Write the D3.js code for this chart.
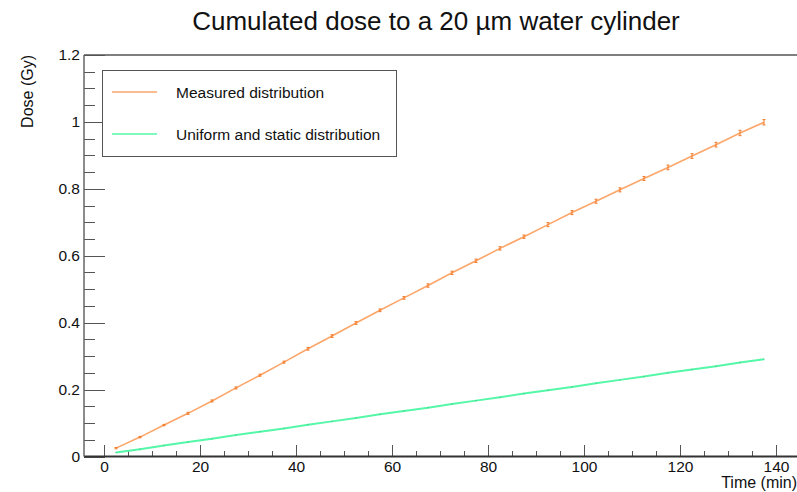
<!DOCTYPE html>
<html>
<head>
<meta charset="utf-8">
<script src="https://cdn.jsdelivr.net/npm/d3@7"></script>
<style>
  body { margin: 0; background: #fff; }
  svg { display: block; font-family: "Liberation Sans", Arial, sans-serif; }
  .axis path { display: none; }
  .axis line { stroke: #555; shape-rendering: crispEdges; }
  .axis text { font-size: 15.5px; fill: #111; }
</style>
</head>
<body>
<div class="chart"></div>
<script>
// time bins (min)
const times = [2.5, 7.5, 12.5, 17.5, 22.5, 27.5, 32.5, 37.5, 42.5, 47.5, 52.5, 57.5, 62.5, 67.5,
               72.5, 77.5, 82.5, 87.5, 92.5, 97.5, 102.5, 107.5, 112.5, 117.5, 122.5, 127.5, 132.5, 137.5];
// measured distribution (Gy)
const measured = [0.025, 0.058, 0.094, 0.129, 0.166, 0.205, 0.243, 0.282, 0.322, 0.360, 0.399, 0.437, 0.474, 0.511,
                  0.549, 0.585, 0.622, 0.657, 0.693, 0.729, 0.763, 0.797, 0.831, 0.864, 0.898, 0.932, 0.967, 0.999];
const measuredErr = [0.002, 0.002, 0.002, 0.003, 0.003, 0.003, 0.003, 0.003, 0.004, 0.004, 0.004, 0.004, 0.004, 0.005,
                     0.005, 0.005, 0.005, 0.005, 0.006, 0.006, 0.006, 0.006, 0.006, 0.007, 0.007, 0.007, 0.008, 0.008];
// uniform and static distribution (Gy)
const uniform = [0.012, 0.022, 0.033, 0.043, 0.053, 0.064, 0.074, 0.084, 0.095, 0.105, 0.115, 0.126, 0.136, 0.146,
                 0.157, 0.167, 0.177, 0.188, 0.198, 0.208, 0.219, 0.229, 0.239, 0.250, 0.260, 0.270, 0.281, 0.291];

const xMajor = [0, 20, 40, 60, 80, 100, 120, 140];
const yMajor = [0, 0.2, 0.4, 0.6, 0.8, 1, 1.2];
const legendLabels = ['Measured distribution', 'Uniform and static distribution'];

const w = 797;
const h = 492;
const margin = { top: 55, right: 0, bottom: 35.5, left: 84 };

const orange = '#fca66a';
const orangeDark = '#f07a28';
const green = '#55f7a8';

const xScale = d3.scaleLinear()
                 .domain([-4.167, 144.375])
                 .range([margin.left, w - margin.right]);

const yScale = d3.scaleLinear()
                 .domain([0, 1.2])
                 .range([h - margin.bottom, margin.top]);

const svg = d3.select('.chart')
              .append('svg')
              .attr('width', w)
              .attr('height', h);

// title
svg.append('text')
   .attr('x', 436)
   .attr('y', 30)
   .style('text-anchor', 'middle')
   .style('font-size', '26px')
   .attr('fill', '#111')
   .text('Cumulated dose to a 20 µm water cylinder');

// x axis: major + minor ticks pointing up
const xMinor = d3.range(5, 145, 5).filter(d => d % 20 !== 0);

svg.append('g')
   .attr('class', 'axis')
   .attr('transform', `translate(0, ${h - margin.bottom})`)
   .call(d3.axisBottom(xScale).tickValues(xMinor).tickSize(-6).tickFormat(''));

svg.append('g')
   .attr('class', 'axis')
   .attr('transform', `translate(0, ${h - margin.bottom})`)
   .call(d3.axisBottom(xScale).tickValues(xMajor).tickSize(-12).tickPadding(4).tickFormat(d3.format('d')));

// y axis: major + minor ticks pointing right
const yMinor = d3.range(0.05, 1.2, 0.05).filter(d => Math.abs(d * 5 - Math.round(d * 5)) > 1e-6);

svg.append('g')
   .attr('class', 'axis')
   .attr('transform', `translate(${margin.left}, 0)`)
   .call(d3.axisLeft(yScale).tickValues(yMinor).tickSize(-11).tickFormat(''));

svg.append('g')
   .attr('class', 'axis')
   .attr('transform', `translate(${margin.left}, 0)`)
   .call(d3.axisLeft(yScale).tickValues(yMajor).tickSize(-21).tickPadding(4)
           .tickFormat(d => d === 0 ? '0' : d3.format('~g')(d)));

// frame lines
svg.append('line')
   .attr('x1', margin.left).attr('x2', w)
   .attr('y1', h - margin.bottom).attr('y2', h - margin.bottom)
   .attr('stroke', '#333').attr('stroke-width', 2);

svg.append('line')
   .attr('x1', margin.left).attr('x2', margin.left)
   .attr('y1', margin.top).attr('y2', h - margin.bottom)
   .attr('stroke', '#666').attr('stroke-width', 1.5);

svg.append('line')
   .attr('x1', margin.left).attr('x2', w)
   .attr('y1', margin.top).attr('y2', margin.top)
   .attr('stroke', '#555').attr('stroke-width', 1.5);

// axis titles
svg.append('text')
   .attr('x', w)
   .attr('y', 488)
   .style('text-anchor', 'end')
   .style('font-size', '16px')
   .attr('fill', '#111')
   .text('Time (min)');

svg.append('text')
   .attr('transform', `translate(33, ${margin.top}) rotate(-90)`)
   .style('text-anchor', 'end')
   .style('font-size', '16px')
   .attr('fill', '#111')
   .text('Dose (Gy)');

// uniform line
const line = d3.line()
               .x((d, i) => xScale(times[i]))
               .y(d => yScale(d));

svg.append('path')
   .datum(uniform)
   .attr('d', line)
   .attr('fill', 'none')
   .attr('stroke', green)
   .attr('stroke-width', 2);

svg.selectAll('.umark')
   .data(uniform)
   .enter()
   .append('rect')
   .attr('class', 'umark')
   .attr('x', (d, i) => xScale(times[i]) - 0.5)
   .attr('y', d => yScale(d) - 0.5)
   .attr('width', 1)
   .attr('height', 1)
   .attr('fill', '#3ab982');

// measured line with error bars
svg.append('path')
   .datum(measured)
   .attr('d', line)
   .attr('fill', 'none')
   .attr('stroke', orange)
   .attr('stroke-width', 1.6);

const err = svg.selectAll('.err')
               .data(measured)
               .enter()
               .append('g')
               .attr('class', 'err')
               .attr('stroke', orangeDark)
               .attr('stroke-width', 1);

err.append('line')
   .attr('x1', (d, i) => xScale(times[i]))
   .attr('x2', (d, i) => xScale(times[i]))
   .attr('y1', (d, i) => yScale(d - measuredErr[i]))
   .attr('y2', (d, i) => yScale(d + measuredErr[i]));

err.append('line')
   .attr('x1', (d, i) => xScale(times[i]) - 1.5)
   .attr('x2', (d, i) => xScale(times[i]) + 1.5)
   .attr('y1', (d, i) => yScale(d + measuredErr[i]))
   .attr('y2', (d, i) => yScale(d + measuredErr[i]));

err.append('line')
   .attr('x1', (d, i) => xScale(times[i]) - 1.5)
   .attr('x2', (d, i) => xScale(times[i]) + 1.5)
   .attr('y1', (d, i) => yScale(d - measuredErr[i]))
   .attr('y2', (d, i) => yScale(d - measuredErr[i]));

// legend
const legend = svg.append('g');

legend.append('rect')
      .attr('x', 102.5)
      .attr('y', 70.5)
      .attr('width', 294)
      .attr('height', 86)
      .attr('fill', '#fff')
      .attr('stroke', '#555')
      .attr('stroke-width', 1);

const legendColors = [orange, green];
const legendY = [92, 134];

legendLabels.forEach((label, i) => {
  legend.append('line')
        .attr('x1', 112).attr('x2', 157)
        .attr('y1', legendY[i]).attr('y2', legendY[i])
        .attr('stroke', legendColors[i])
        .attr('stroke-width', 1.5);

  legend.append('text')
        .attr('x', 176)
        .attr('y', legendY[i] + 5.5)
        .style('font-size', '15.5px')
        .attr('fill', '#111')
        .text(label);
});
</script>
</body>
</html>
